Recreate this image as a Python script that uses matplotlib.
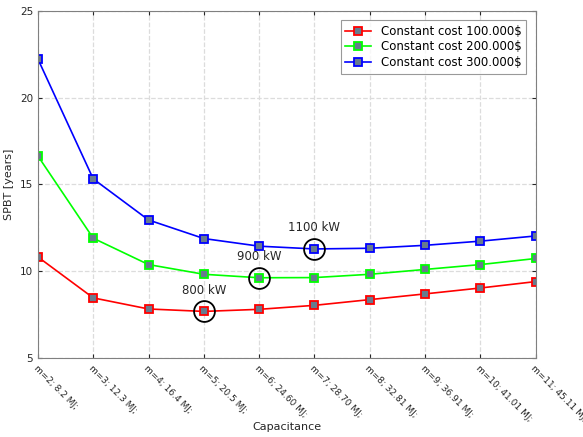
import matplotlib.pyplot as plt
import numpy as np

m_vals = [2, 3, 4, 5, 6, 7, 8, 9, 10, 11]
tick_labels = ['m=2; 8.2 MJ;', 'm=3; 12.3 MJ;', 'm=4; 16.4 MJ;', 'm=5; 20.5 MJ;',
               'm=6; 24.60 MJ;', 'm=7; 28.70 MJ;', 'm=8; 32.81 MJ;', 'm=9; 36.91 MJ;',
               'm=10; 41.01 MJ;', 'm=11; 45.11 MJ;']
cost100 = [10.82, 8.46, 7.82, 7.68, 7.80, 8.03, 8.36, 8.69, 9.03, 9.40]
cost200 = [16.64, 11.90, 10.38, 9.82, 9.62, 9.63, 9.82, 10.10, 10.38, 10.73]
cost300 = [22.23, 15.32, 12.95, 11.88, 11.44, 11.28, 11.32, 11.49, 11.73, 12.03]

# optimum points (index into m_vals) and their labels
opt_idx = [3, 4, 5]
opt_text = ['800 kW', '900 kW', '1100 kW']

fig = plt.figure(figsize=(5.83, 4.37), dpi=100)
ax = fig.add_axes([0.065, 0.181, 0.854, 0.794])

series = [(cost100, '#ff0000', 'Constant cost 100.000$'),
          (cost200, '#00ff00', 'Constant cost 200.000$'),
          (cost300, '#0000ff', 'Constant cost 300.000$')]
for vals, col, lab in series:
    ax.plot(m_vals, vals, color=col, lw=1.2, marker='s', ms=6,
            mfc='#687b8e', mec=col, mew=1.3, label=lab)

for s_i, (i, txt) in enumerate(zip(opt_idx, opt_text)):
    y = series[s_i][0][i]
    ax.plot(m_vals[i], y, 'o', ms=15, mfc='none', mec='black', mew=1.3)
    ax.text(m_vals[i], y + 0.85, txt, ha='center', va='bottom', fontsize=8.5, color='#262626')

ax.set_xlim(2, 11)
ax.set_ylim(5, 25)
ax.set_yticks([5, 10, 15, 20, 25])
ax.set_xticks(m_vals)
ax.set_xticklabels(tick_labels, rotation=-45, ha='left', va='top', rotation_mode='anchor')
ax.tick_params(axis='x', labelsize=6.5, pad=4)
ax.tick_params(axis='y', labelsize=7.5)
ax.tick_params(colors='#262626', direction='in', length=3, top=True, right=True)
for sp in ax.spines.values():
    sp.set_color('#808080')
ax.grid(True, ls='--', color='#dcdcdc', lw=0.9)
ax.set_axisbelow(True)
ax.set_xlabel('Capacitance', fontsize=8, color='#262626')
ax.xaxis.set_label_coords(0.5, -0.185)
ax.set_ylabel('SPBT [years]', fontsize=8, color='#262626')

leg = ax.legend(loc='upper right', fontsize=8.5, frameon=True, fancybox=False,
                borderaxespad=0.8, handlelength=2.2, labelspacing=0.2)
leg.get_frame().set_edgecolor('#808080')
leg.get_frame().set_linewidth(0.8)

fig.savefig('out.png', dpi=100)
